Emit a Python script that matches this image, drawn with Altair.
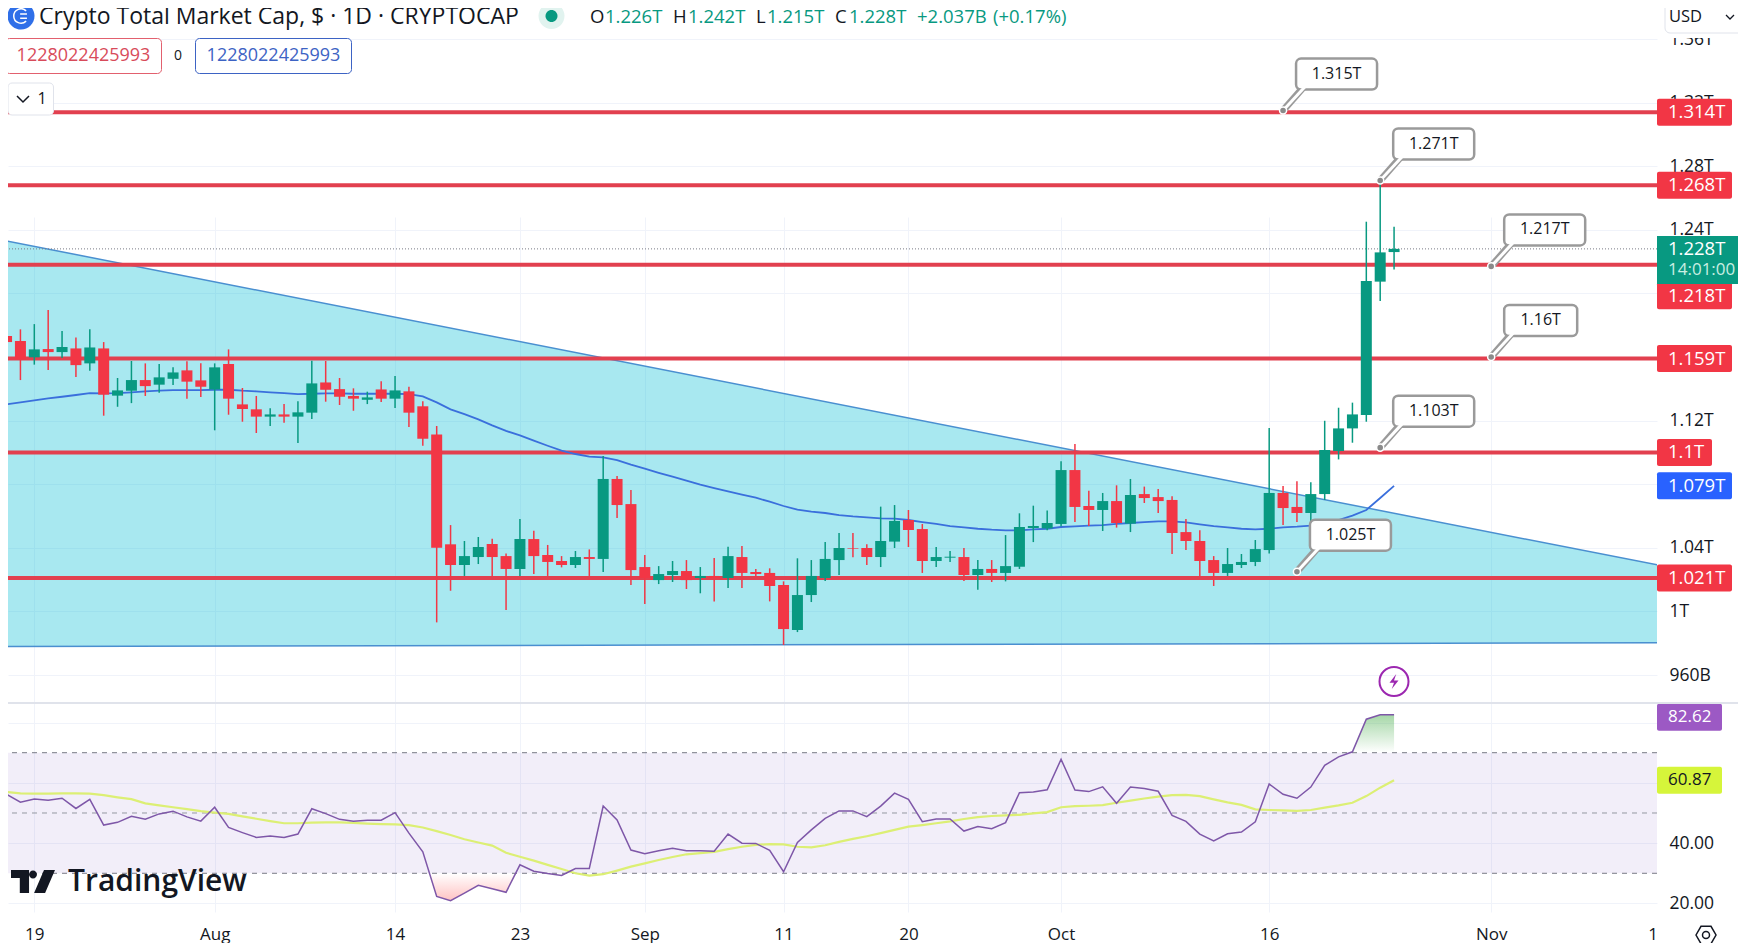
import altair as alt
import pandas as pd

FONT = "Open Sans"
INK = "#131722"
RED = "#f23645"
GREEN = "#089981"
BLUE = "#2962ff"
GRID = "#f0f3fa"

first_day = "2023-07-17"
open_ = [1.1732,1.1700,1.1598,1.1650,1.1631,1.1654,1.1560,1.1654,1.1357,1.1388,
1.1455,1.1426,1.1463,1.1516,1.1453,1.1396,1.1556,1.1302,1.1271,1.1225,
1.1239,1.1225,1.1250,1.1440,1.1398,1.1355,1.1331,1.1396,1.1338,1.1384,
1.1290,1.1113,1.0422,1.0292,1.0342,1.0424,1.0348,1.0267,1.0455,1.0355,
1.0317,1.0292,1.0342,1.0330,1.0833,1.0675,1.0279,1.0197,1.0229,1.0254,
1.0210,1.0223,1.0210,1.0342,1.0248,1.0242,1.0166,0.9883,1.0103,1.0210,
1.0323,1.0399,1.0399,1.0342,1.0439,1.0575,1.0518,1.0317,1.0338,1.0342,
1.0229,1.0267,1.0242,1.0281,1.0525,1.0522,1.0550,1.0889,1.0663,1.0638,
1.0694,1.0552,1.0738,1.0719,1.0701,1.0499,1.0443,1.0323,1.0242,1.0292,
1.0311,1.0386,1.0745,1.0657,1.0619,1.0738,1.1009,1.1151,1.1235,1.2074,1.226]
high = [1.1832,1.1774,1.1807,1.1895,1.1763,1.1723,1.1774,1.1694,1.1468,1.1575,
1.1560,1.1556,1.1535,1.1573,1.1560,1.1560,1.1648,1.1405,1.1355,1.1277,
1.1304,1.1321,1.1577,1.1575,1.1468,1.1403,1.1382,1.1447,1.1480,1.1413,
1.1321,1.1166,1.0543,1.0443,1.0468,1.0457,1.0365,1.0581,1.0508,1.0418,
1.0348,1.0380,1.0390,1.0977,1.0852,1.0764,1.0355,1.0285,1.0317,1.0323,
1.0279,1.0336,1.0407,1.0411,1.0267,1.0271,1.0189,1.0334,1.0323,1.0436,
1.0493,1.0493,1.0422,1.0659,1.0669,1.0638,1.0550,1.0405,1.0380,1.0399,
1.0323,1.0323,1.0480,1.0617,1.0665,1.0634,1.0944,1.1053,1.0759,1.0745,
1.0793,1.0833,1.0785,1.0770,1.0724,1.0581,1.0510,1.0348,1.0399,1.0361,
1.0449,1.1153,1.0789,1.0818,1.0812,1.1199,1.1281,1.1313,1.2451,1.271,1.242]
low = [1.1493,1.1455,1.1552,1.1518,1.1593,1.1474,1.1514,1.1231,1.1287,1.1310,
1.1355,1.1375,1.1424,1.1338,1.1348,1.1139,1.1237,1.1193,1.1122,1.1166,
1.1187,1.1059,1.1210,1.1319,1.1298,1.1262,1.1304,1.1317,1.1279,1.1160,
1.1042,0.9931,1.0130,1.0223,1.0298,1.0223,1.0009,1.0223,1.0235,1.0223,
1.0277,1.0273,1.0223,1.0248,1.0587,1.0166,1.0046,1.0172,1.0185,1.0141,
1.0114,1.0063,1.0147,1.0147,1.0223,1.0063,0.9789,0.9870,1.0059,1.0191,
1.0229,1.0340,1.0292,1.0279,1.0399,1.0405,1.0242,1.0279,1.0311,1.0191,
1.0137,1.0185,1.0189,1.0267,1.0436,1.0510,1.0535,1.0562,1.0537,1.0506,
1.0527,1.0499,1.0682,1.0619,1.0361,1.0386,1.0223,1.0160,1.0223,1.0273,
1.0285,1.0365,1.0543,1.0562,1.0525,1.0701,1.0956,1.1061,1.1193,1.1952,1.215]
close = [1.1694,1.1585,1.1648,1.1631,1.1663,1.1549,1.1660,1.1363,1.1390,1.1455,
1.1417,1.1472,1.1503,1.1445,1.1413,1.1535,1.1338,1.1273,1.1225,1.1239,
1.1225,1.1252,1.1434,1.1394,1.1350,1.1338,1.1346,1.1338,1.1390,1.1250,
1.1086,1.0401,1.0292,1.0348,1.0405,1.0342,1.0267,1.0455,1.0348,1.0311,
1.0292,1.0342,1.0330,1.0833,1.0669,1.0260,1.0210,1.0235,1.0254,1.0197,
1.0223,1.0210,1.0348,1.0242,1.0235,1.0160,0.9889,1.0103,1.0223,1.0330,
1.0399,1.0395,1.0342,1.0443,1.0569,1.0512,1.0317,1.0342,1.0344,1.0229,
1.0267,1.0242,1.0285,1.0531,1.0537,1.0556,1.0889,1.0657,1.0638,1.0694,
1.0556,1.0732,1.0713,1.0694,1.0493,1.0443,1.0317,1.0242,1.0298,1.0311,
1.0392,1.0745,1.0650,1.0619,1.0738,1.1015,1.1151,1.1239,1.2078,1.2258,1.228]
ema = [1.1302,1.1315,1.1327,1.1340,1.1350,1.1361,1.1373,1.1371,1.1373,1.1378,
1.1384,1.1388,1.1392,1.1392,1.1392,1.1394,1.1394,1.1388,1.1384,1.1378,
1.1373,1.1367,1.1369,1.1371,1.1371,1.1369,1.1369,1.1369,1.1369,1.1367,
1.1352,1.1315,1.1271,1.1241,1.1208,1.1170,1.1135,1.1107,1.1074,1.1042,
1.1011,1.0990,1.0973,1.0969,1.0952,1.0923,1.0898,1.0872,1.0847,1.0822,
1.0797,1.0776,1.0755,1.0734,1.0715,1.0690,1.0663,1.0640,1.0627,1.0619,
1.0606,1.0598,1.0592,1.0585,1.0583,1.0575,1.0562,1.0550,1.0537,1.0529,
1.0520,1.0514,1.0510,1.0510,1.0516,1.0520,1.0531,1.0535,1.0539,1.0543,
1.0550,1.0556,1.0562,1.0566,1.0566,1.0560,1.0548,1.0537,1.0529,1.0520,
1.0516,1.0520,1.0529,1.0533,1.0539,1.0556,1.0575,1.0603,1.0638,1.0713,1.079]
rsi = [56.2,53.6,54.6,54.2,54.9,51.5,54.5,46.0,46.9,48.9,
47.9,49.7,50.6,48.7,47.3,51.9,45.2,43.5,41.9,42.4,
41.9,43.0,51.4,49.8,47.9,47.3,47.6,47.6,50.1,43.3,
37.1,22.3,20.9,23.4,26.0,24.9,23.7,32.8,30.7,29.9,
29.3,31.6,31.6,52.3,47.7,37.7,36.5,37.5,38.3,37.5,
37.5,37.3,43.0,40.0,39.9,37.6,30.5,40.2,44.4,48.2,
50.7,50.7,48.8,52.3,56.6,54.5,47.1,48.0,48.0,44.0,
45.5,44.8,46.8,56.7,57.0,57.7,67.8,57.6,57.1,58.7,
53.2,58.6,58.1,57.2,49.2,47.2,43.0,40.7,43.1,43.7,
47.1,59.6,56.2,54.9,58.6,65.8,68.6,70.3,81.1,82.6,82.62]
rsi_ma = [57.0,56.5,56.4,56.4,56.5,56.5,56.4,55.9,55.2,54.6,
53.2,52.5,51.9,51.3,50.6,50.1,49.7,48.9,48.1,47.3,
46.6,46.6,46.8,46.9,46.9,46.7,46.5,46.3,46.2,46.0,
45.2,44.0,42.7,41.3,40.2,39.2,36.8,35.5,34.2,32.8,
31.4,30.0,29.2,29.7,30.9,32.2,33.3,34.4,35.4,36.3,
36.7,37.1,38.0,38.8,39.4,39.7,39.6,38.8,38.6,39.3,
40.4,41.4,42.3,43.3,44.4,45.5,46.0,46.6,47.2,48.0,
48.6,49.0,49.2,49.4,49.9,50.3,51.9,52.3,52.4,52.6,
53.4,54.1,54.8,55.4,55.9,56.0,55.6,54.5,53.5,52.7,
51.2,51.0,50.9,50.7,51.0,51.8,52.5,53.4,55.6,58.4,60.87]

levels = [1.314, 1.268, 1.218, 1.159, 1.1, 1.021]
level_labels = ["1.314T", "1.268T", "1.218T", "1.159T", "1.1T", "1.021T"]
callouts = [("2023-10-17", 1.315, "1.315T"), ("2023-10-24", 1.271, "1.271T"),
            ("2023-11-01", 1.217, "1.217T"), ("2023-11-01", 1.16, "1.16T"),
            ("2023-10-24", 1.103, "1.103T"), ("2023-10-18", 1.025, "1.025T")]
wedge_dates = ["2023-07-17", "2023-11-13"]
wedge_top = [1.2330, 1.0292]
wedge_bottom = [0.9779, 0.9803]
price_ticks = [0.96, 1.0, 1.04, 1.08, 1.12, 1.16, 1.20, 1.24, 1.28, 1.32, 1.36]
rsi_ticks = [20, 40, 60, 80]
date_ticks = ["2023-07-19", "2023-08-01", "2023-08-14", "2023-08-23", "2023-09-01",
              "2023-09-11", "2023-09-20", "2023-10-01", "2023-10-16", "2023-11-01"]
oversold_dates = ["2023-08-16T11:30:00Z", "2023-08-17", "2023-08-18", "2023-08-19", "2023-08-20",
                  "2023-08-21", "2023-08-22", "2023-08-22T16:30:00Z"]
oversold_rsi = [30, 22.3, 20.9, 23.4, 26.0, 24.9, 23.7, 30]
overbought_dates = ["2023-10-21T20:00:00Z", "2023-10-22", "2023-10-23", "2023-10-24", "2023-10-25"]
overbought_rsi = [70, 70.3, 81.1, 82.6, 82.62]
title_text = "Crypto Total Market Cap, $ · 1D · CRYPTOCAP"
ohlc_parts = [("O", INK, 590), ("1.226T", GREEN, 605), ("H", INK, 673), ("1.242T", GREEN, 688),
              ("L", INK, 756), ("1.215T", GREEN, 767), ("C", INK, 835), ("1.228T", GREEN, 849),
              ("+2.037B", GREEN, 917), ("(+0.17%)", GREEN, 993)]
order_value = "1228022425993"


def ms(s):
    return int(pd.Timestamp(s, tz="UTC").value // 10**6)


W, H = 1649, 904
PRICE_H = 695
HEADER_Y = 17
xs = alt.Scale(type="utc", domain=[ms("2023-07-17T02:30:00"), ms("2023-11-12T22:48:00")], padding=0)
ps = alt.Scale(domain=[0.9424, 1.3795], range=[PRICE_H, 0], zero=False, nice=False)
rs = alt.Scale(domain=[17.16, 86.15], range=[H, 696], zero=False, nice=False)

x_axis = alt.Axis(values=[ms(d) for d in date_ticks], title=None, grid=True, gridColor=GRID, gridWidth=1,
                  ticks=False, domain=False, labelFont=FONT, labelFontSize=17, labelColor=INK, labelPadding=14,
                  labelOverlap=False, orient="bottom",
                  labelExpr="utcdate(datum.value)==1 ? utcFormat(datum.value,'%b') : utcFormat(datum.value,'%-d')")
price_axis = alt.Axis(values=price_ticks, title=None, orient="right", grid=True, gridColor=GRID, ticks=False,
                      domain=False, labelFont=FONT, labelFontSize=17.5, labelColor=INK, labelPadding=12,
                      labelOverlap=False,
                      labelExpr="indexof([1.08,1.16,1.2],datum.value)>=0 ? '' : datum.value<1 ? format(datum.value*1000,'.0f')+'B' : replace(format(datum.value,'.2f'),'.00','')+'T'")
rsi_axis = alt.Axis(values=rsi_ticks, title=None, orient="right", grid=True, gridColor=GRID, ticks=False,
                    domain=False, labelFont=FONT, labelFontSize=17.5, labelColor=INK, labelPadding=12,
                    labelOverlap=False, labelExpr="datum.value>=60 ? '' : format(datum.value,'.2f')")


def X(f="date"):
    return alt.X(f"{f}:T", scale=xs, axis=x_axis)


def Y(f):
    return alt.Y(f"{f}:Q", scale=ps, axis=price_axis)


def R(f):
    return alt.Y(f"{f}:Q", scale=rs, axis=rsi_axis)


one = pd.DataFrame({"a": [0]})
dates = pd.date_range(first_day, periods=len(open_), freq="D").strftime("%Y-%m-%d").tolist()
bars = pd.DataFrame({"date": dates, "open": open_, "high": high, "low": low, "close": close,
                     "ema": ema, "rsi": rsi, "rsi_ma": rsi_ma})
bars["dir"] = ["up" if c >= o else "down" for o, c in zip(open_, close)]
color = alt.Color("dir:N", scale=alt.Scale(domain=["up", "down"], range=[GREEN, RED]), legend=None)
wedge = pd.DataFrame({"date": wedge_dates, "top": wedge_top, "bottom": wedge_bottom})
lv = pd.DataFrame({"p": levels})


def txt(text, x, y, size=16, col=INK, align="left", weight=400):
    return alt.Chart(one).mark_text(text=text, font=FONT, fontSize=size, color=col, align=align,
                                    baseline="middle", fontWeight=weight).encode(
        x=alt.value(x - 8), y=alt.value(y - 8))


def box(x0, x1, y0, y1, fill="white", stroke=None, r=4, sw=1):
    kw = {"stroke": stroke, "strokeWidth": sw} if stroke else {}
    return alt.Chart(one).mark_rect(fill=fill, cornerRadius=r, **kw).encode(
        x=alt.value(x0 - 8), x2=alt.value(x1 - 8), y=alt.value(y0 - 8), y2=alt.value(y1 - 8))


def glyph(path, x, y, px, fill=None, stroke=None, sw=1.5):
    kw = {}
    if fill:
        kw.update(fill=fill, filled=True, opacity=1)
    else:
        kw.update(filled=False, fill="transparent")
    if stroke:
        kw.update(stroke=stroke, strokeWidth=sw, opacity=1)
    else:
        kw.update(strokeWidth=0)
    return alt.Chart(one).mark_point(shape=path, size=px * px, **kw).encode(
        x=alt.value(x - 8), y=alt.value(y - 8))


def price_tag(label, p, x1, fill, offset=0, text_col="white"):
    d = pd.DataFrame({"p": [p]})
    rect = alt.Chart(d).mark_rect(fill=fill, cornerRadius=2, yOffset=offset - 13.5, y2Offset=offset + 13.5).encode(
        x=alt.value(W), x2=alt.value(x1 - 8), y=Y("p"), y2=alt.Y2("p"))
    t = alt.Chart(d).mark_text(text=label, font=FONT, fontSize=18.5, color=text_col, align="left",
                               baseline="middle", dy=offset, fontWeight=500).encode(
        x=alt.value(W + 11), y=Y("p"))
    return [rect, t]


def callout(date, p, label):
    d = pd.DataFrame({"date": [date], "p": [p], "t": [label]})
    right = 86 if len(label) == 5 else 94
    tail = alt.Chart(d).mark_rule(color="#9a9a9a", strokeWidth=7, x2Offset=21, y2Offset=-24).encode(
        x=X(), x2=alt.X2("date"), y=Y("p"), y2=alt.Y2("p"))
    rect = alt.Chart(d).mark_rect(fill="white", stroke="#9a9a9a", strokeWidth=2.5, cornerRadius=5,
                                  xOffset=13, x2Offset=right, yOffset=-52, y2Offset=-21).encode(
        x=X(), x2=alt.X2("date"), y=Y("p"), y2=alt.Y2("p"))
    inner = alt.Chart(d).mark_rule(color="white", strokeWidth=3, x2Offset=24, y2Offset=-26).encode(
        x=X(), x2=alt.X2("date"), y=Y("p"), y2=alt.Y2("p"))
    t = alt.Chart(d).mark_text(font=FONT, fontSize=16, color=INK, align="center", baseline="middle",
                               dx=(13 + right) / 2, dy=-37, fontWeight=400).encode(
        x=X(), y=Y("p"), text="t:N")
    dot = alt.Chart(d).mark_point(filled=True, fill="#8a8a8a", stroke="white", strokeWidth=1.5, size=50, opacity=1).encode(
        x=X(), y=Y("p"))
    return [tail, rect, inner, t, dot]


# price pane
price_layers = [
    alt.Chart(wedge).mark_area(color="#00bcd4", opacity=0.34, clip=True).encode(
        x=X(), y=Y("top"), y2=alt.Y2("bottom")),
    alt.Chart(wedge).mark_line(color="#4a8fd0", strokeWidth=1.5, clip=True).encode(x=X(), y=Y("top")),
    alt.Chart(wedge).mark_line(color="#4a8fd0", strokeWidth=1.5, clip=True).encode(x=X(), y=Y("bottom")),
    alt.Chart(lv).mark_rule(color="#e2404f", strokeWidth=4).encode(y=Y("p")),
    alt.Chart(pd.DataFrame({"p": [close[-1]]})).mark_rule(color="#787b86", strokeWidth=1, strokeDash=[1, 2]).encode(y=Y("p")),
    alt.Chart(bars).mark_line(color="#3a6fdc", strokeWidth=1.8, clip=True).encode(x=X(), y=Y("ema")),
    alt.Chart(bars).mark_rule(strokeWidth=1.5, clip=True).encode(x=X(), y=Y("high"), y2=alt.Y2("low"), color=color),
    alt.Chart(bars).mark_bar(size=11, clip=True).encode(x=X(), y=Y("open"), y2=alt.Y2("close"), color=color),
]
for c in callouts:
    price_layers += callout(*c)
widths = {"1.1T": 1712}
for lab, p in zip(level_labels, levels):
    price_layers += price_tag(lab, p, widths.get(lab, 1732), RED, offset=31 if lab == "1.218T" else 0)
price_layers += price_tag("1.079T", ema[-1], 1732, BLUE)
d_last = pd.DataFrame({"p": [close[-1]]})
price_layers += [
    alt.Chart(d_last).mark_rect(fill=GREEN, yOffset=-13, y2Offset=35).encode(
        x=alt.value(W), x2=alt.value(1738), y=Y("p"), y2=alt.Y2("p")),
    alt.Chart(d_last).mark_text(text="1.228T", font=FONT, fontSize=18.5, color="white", align="left",
                                baseline="middle", fontWeight=500).encode(x=alt.value(W + 11), y=Y("p")),
    alt.Chart(d_last).mark_text(text="14:01:00", font=FONT, fontSize=17, color="#c9eee2", align="left",
                                baseline="middle", dy=21).encode(x=alt.value(W + 11), y=Y("p")),
]

# RSI pane
band = pd.DataFrame({"a": [70], "b": [30]})
hl = pd.DataFrame({"v": [70, 30]})
grad_green = alt.LinearGradient(gradient="linear", stops=[alt.GradientStop(color="rgba(76,175,80,0.5)", offset=0),
                                                          alt.GradientStop(color="rgba(76,175,80,0)", offset=1)],
                                x1=0, x2=0, y1=0, y2=1)
grad_red = alt.LinearGradient(gradient="linear", stops=[alt.GradientStop(color="rgba(255,82,82,0)", offset=0),
                                                        alt.GradientStop(color="rgba(255,82,82,0.35)", offset=1)],
                              x1=0, x2=0, y1=0, y2=1)
rsi_layers = [
    alt.Chart(band).mark_rect(color="#7e57c2", opacity=0.1).encode(
        x=alt.value(0), x2=alt.value(W), y=R("a"), y2=alt.Y2("b")),
    alt.Chart(hl).mark_rule(color="#787b86", strokeWidth=1, strokeDash=[5, 5]).encode(y=R("v")),
    alt.Chart(pd.DataFrame({"v": [50]})).mark_rule(color="#9598a1", strokeWidth=1, strokeDash=[5, 5]).encode(y=R("v")),
    alt.Chart(pd.DataFrame({"date": oversold_dates, "v": oversold_rsi, "b": 30})).mark_area(color=grad_red).encode(
        x=X(), y=R("v"), y2=alt.Y2("b")),
    alt.Chart(pd.DataFrame({"date": overbought_dates, "v": overbought_rsi, "b": 70})).mark_area(color=grad_green).encode(
        x=X(), y=R("v"), y2=alt.Y2("b")),
    alt.Chart(bars).mark_line(color="#dcef74", strokeWidth=2.2, clip=True).encode(x=X(), y=R("rsi_ma")),
    alt.Chart(bars).mark_line(color="#7e57a8", strokeWidth=1.5, clip=True).encode(x=X(), y=R("rsi")),
]
for lab, v, off, fill, tc in [("82.62", rsi[-1], 2.5, "#9c59c4", "white"), ("60.87", rsi_ma[-1], 0, "#d6f53a", INK)]:
    d = pd.DataFrame({"v": [v]})
    rsi_layers += [
        alt.Chart(d).mark_rect(fill=fill, cornerRadius=2, yOffset=off - 13.5, y2Offset=off + 13.5).encode(
            x=alt.value(W), x2=alt.value(1722 - 8), y=R("v"), y2=alt.Y2("v")),
        alt.Chart(d).mark_text(text=lab, font=FONT, fontSize=17, color=tc, align="left", baseline="middle",
                               dy=off).encode(x=alt.value(W + 11), y=R("v")),
    ]

# page furniture
CHEVRON = "M -1 -0.5 L 0 0.5 L 1 -0.5"
furn = [
    alt.Chart(one).mark_rule(color="#e0e3eb", strokeWidth=2).encode(
        x=alt.value(0), x2=alt.value(1730), y=alt.value(PRICE_H)),
    box(1657, 1746, 0, 38, r=0),
    box(1665, 1750, 0, 33, stroke="#e0e3eb", r=5),
    txt("USD", 1669, HEADER_Y, 16.5),
    glyph(CHEVRON, 1730, HEADER_Y, 8, stroke=INK, sw=1.3),
    glyph("M -1 0 A 1 1 0 1 0 1 0 A 1 1 0 1 0 -1 0 Z", 21, 16, 27, fill="#2f6fe8"),
    glyph("M .6 -.6 A .85 .85 0 1 0 .6 .6 M -.1 -.25 H .7 M -.1 .25 H .7", 21, 16, 17, stroke="white", sw=1.5),
    txt(title_text, 39, HEADER_Y, 23),
    glyph("M -1 0 A 1 1 0 1 0 1 0 A 1 1 0 1 0 -1 0 Z", 551.5, 16, 26, fill="#e1f3ef"),
    glyph("M -1 0 A 1 1 0 1 0 1 0 A 1 1 0 1 0 -1 0 Z", 551.5, 16, 12, fill=GREEN),
]
furn += [txt(t, x, HEADER_Y, 18.5, col) for t, col, x in ohlc_parts]
furn += [
    box(5.5, 161.5, 38.5, 73.5, stroke="#e2606e"),
    txt(order_value, 83.5, 56, 18, "#d84b5a", "center"),
    txt("0", 178, 56, 14, INK, "center"),
    box(195.5, 351.5, 38.5, 73.5, stroke="#3d63c4"),
    txt(order_value, 273.5, 56, 18, "#3d63c4", "center"),
    box(8, 53.5, 83, 115, stroke="#e0e3eb"),
    glyph(CHEVRON, 23, 99, 12, stroke=INK, sw=1.5),
    txt("1", 42, 99, 16, INK, "center"),
    glyph("M -1 -.52 H -.18 V .52 H -.6 V -.16 H -1 Z M .18 -.32 A .18 .18 0 1 0 -.18 -.32 A .18 .18 0 1 0 .18 -.32 Z M .5 -.52 H 1 L .55 .52 H .05 Z",
          33, 881.5, 44, fill=INK),
    txt("TradingView", 68, 882, 30, INK, weight=600),
    txt("1", 1653, 935, 17, INK, "center"),
    glyph("M -1 0 L -.5 -.87 H .5 L 1 0 L .5 .87 H -.5 Z", 1706, 935, 20, stroke=INK, sw=1.5),
    glyph("M -1 0 A 1 1 0 1 0 1 0 A 1 1 0 1 0 -1 0 Z", 1706, 935, 7, stroke=INK, sw=1.5),
    glyph("M -1 0 A 1 1 0 1 0 1 0 A 1 1 0 1 0 -1 0 Z", 1394, 681.5, 29, stroke="#9c27b0", sw=2),
    glyph("M .3 -1 L -.6 .15 H 0 L -.3 1 L .6 -.15 H 0 Z", 1394, 681.5, 15, fill="#9c27b0"),
]

chart = (
    alt.layer(alt.layer(*price_layers), alt.layer(*rsi_layers), alt.layer(*furn))
    .resolve_scale(y="independent")
    .properties(width=W, height=H, background="white",
                padding={"left": 0, "top": 0, "right": 81, "bottom": 31},
                autosize=alt.AutoSizeParams(type="none"))
    .configure_view(stroke=None)
)
chart.save("out.html", embed_options={"renderer": "svg", "actions": False})
